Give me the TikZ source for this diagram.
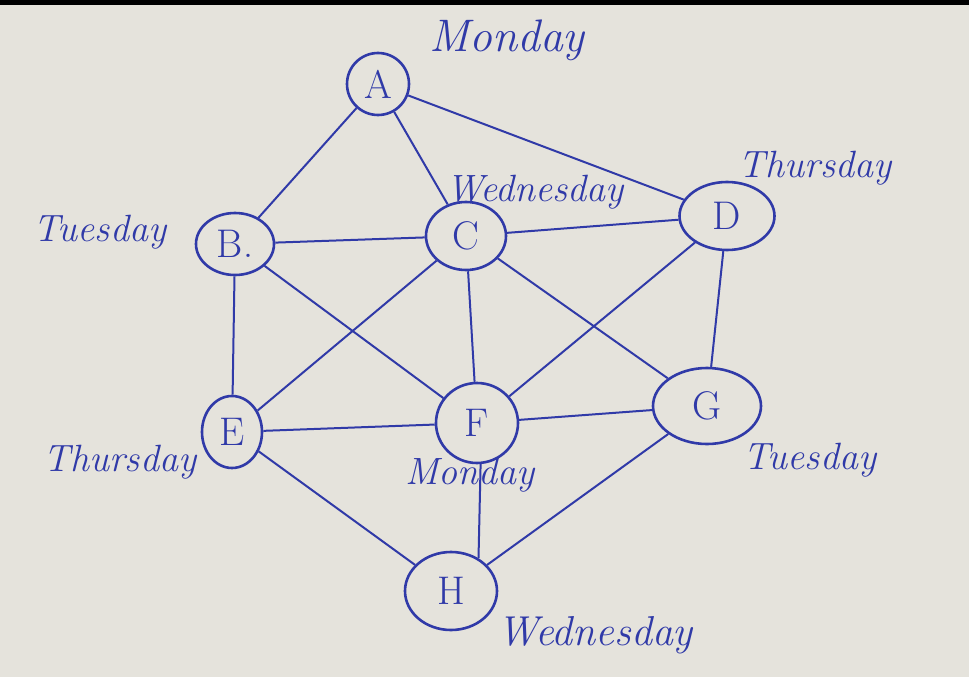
\documentclass[tikz,border=0pt]{standalone}
\usetikzlibrary{shapes.geometric}

\definecolor{paper}{RGB}{229,227,220}
\definecolor{ink}{RGB}{48,58,168}

\tikzset{
  day/.style={ellipse, draw=ink, line width=2.6pt, text=ink, inner sep=0pt,
    font=\fontsize{40}{42}\selectfont},
  dayname/.style={text=ink, inner sep=0pt, font=\fontsize{38}{40}\selectfont\itshape},
  link/.style={draw=ink, line width=2pt},
}

\begin{document}
\begin{tikzpicture}[x=1pt, y=-1pt]
    % sheet
    \fill[paper] (0,0) rectangle (969,677);
    \fill[black] (0,0) rectangle (969,5);

    % vertices
    \node[day, minimum width=62pt, minimum height=62pt] (A) at (378,84) {A};
    \node[day, minimum width=78pt, minimum height=62pt] (B) at (235,244) {B.};
    \node[day, minimum width=80pt, minimum height=68pt] (C) at (466,236) {C};
    \node[day, minimum width=95pt, minimum height=68pt] (D) at (727,216) {D};
    \node[day, minimum width=60pt, minimum height=72pt] (E) at (232,432) {E};
    \node[day, minimum width=82pt, minimum height=80pt] (F) at (477,423) {F};
    \node[day, minimum width=108pt, minimum height=76pt] (G) at (707,406) {G};
    \node[day, minimum width=92pt, minimum height=78pt] (H) at (451,591) {H};

    % colours
    \node[dayname, scale=1.2] (monA) at (507,40) {Monday};
    \node[dayname] (tueB) at (100,232) {Tuesday};
    \node[dayname] (wedC) at (535,192) {Wednesday};
    \node[dayname] (thuD) at (815,168) {Thursday};
    \node[dayname] (thuE) at (120,462) {Thursday};
    \node[dayname] (monF) at (470,475) {Monday};
    \node[dayname] (tueG) at (810,460) {Tuesday};
    \node[dayname, scale=1.1] (wedH) at (595,635) {Wednesday};

    % edges
    \draw[link] (A) -- (B);
    \draw[link] (A) -- (C);
    \draw[link] (A) -- (D);
    \draw[link] (B) -- (C);
    \draw[link] (C) -- (D);
    \draw[link] (B) -- (E);
    \draw[link] (B) -- (F);
    \draw[link] (C) -- (E);
    \draw[link] (C) -- (F);
    \draw[link] (C) -- (G);
    \draw[link] (D) -- (F);
    \draw[link] (D) -- (G);
    \draw[link] (E) -- (F);
    \draw[link] (F) -- (G);
    \draw[link] (E) -- (H);
    \draw[link] (F.-85) -- (H.50);
    \draw[link] (G) -- (H);

\end{tikzpicture}
\end{document}
